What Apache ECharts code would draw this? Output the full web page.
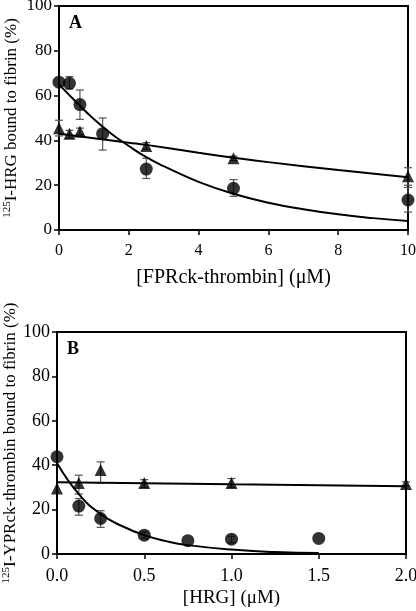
<!DOCTYPE html>
<html><head><meta charset="utf-8">
<script src="https://cdn.jsdelivr.net/npm/echarts@6/dist/echarts.min.js"></script>
<style>html,body{margin:0;padding:0;background:#fff}#c{width:416px;height:611px}</style>
</head><body><div id="c"></div>
<script>
// Panel A data
var aX = [0, 0.3, 0.6, 1.25, 2.5, 5, 10];
var aCircle = [66, 65.5, 56, 43, 27.2, 18.6, 13.4];
var aCircleLo = [66, 63, 49.4, 35.7, 23, 15, 8];
var aCircleHi = [66, 68.5, 62.5, 50, 32, 22.5, 19];
var aTriX = [0, 0.3, 0.6, 2.5, 5, 10];
var aTri = [45.4, 43, 44, 37.5, 32, 24];
var aTriLo = [42, 41, 42.5, 36, 31, 20];
var aTriHi = [49, 44.5, 45.5, 39, 33, 27.8];
var aCircleFitX = [0, 0.5, 1, 1.5, 2, 2.5, 3, 4, 5, 6, 7, 8, 9, 10];
var aCircleFitY = [65, 57, 49.5, 43, 37.5, 32.5, 28.5, 21.5, 16.2, 12.2, 9.3, 7, 5.3, 4];
var aTriFitX = [0, 1, 2, 2.5, 4, 5, 6, 8, 10];
var aTriFitY = [43, 41, 39, 38, 34.5, 32.3, 30.3, 26.8, 23.6];
// Panel B data
var bX = [0, 0.125, 0.25, 0.5, 0.75, 1.0, 1.5];
var bCircle = [43.8, 21.6, 16, 8.5, 6, 6.7, 7];
var bCircleLo = [43.8, 17.5, 12, 7, 6, 5, 7];
var bCircleHi = [43.8, 25, 19.5, 10, 6, 8, 7];
var bTriX = [0, 0.125, 0.25, 0.5, 1.0, 2.0];
var bTri = [29.5, 32, 37.8, 32, 32, 31.5];
var bTriLo = [29.5, 27, 32, 30, 30, 30.5];
var bTriHi = [29.5, 35.5, 41.5, 33.5, 34, 32.5];
var bCircleFitX = [0, 0.125, 0.25, 0.375, 0.5, 0.625, 0.75, 1.0, 1.25, 1.5];
var bCircleFitY = [41, 27, 18, 12.5, 8.5, 5.8, 4, 2, 0.9, 0.4];
var bTriFitX = [0, 0.5, 1.0, 1.5, 2.0];
var bTriFitY = [32.3, 31.9, 31.4, 31, 30.5];
var yTicksInterval = 20;

function pairs(xs, ys){ return xs.map(function(x,i){return [x, ys[i]];}); }
function triples(xs, lo, hi){ return xs.map(function(x,i){return [x, lo[i], hi[i]];}); }

var FONT = 'Liberation Serif';
function errSeries(idx, data){
  return {
    type: 'custom', xAxisIndex: idx, yAxisIndex: idx, z: 1,
    data: data,
    renderItem: function(params, api){
      var x = api.value(0), lo = api.value(1), hi = api.value(2);
      if (lo === hi) return null;
      var p1 = api.coord([x, lo]), p2 = api.coord([x, hi]);
      var w = 4, st = {stroke: '#555', lineWidth: 1.2};
      return {type: 'group', children: [
        {type: 'line', shape: {x1: p1[0], y1: p1[1], x2: p2[0], y2: p2[1]}, style: st},
        {type: 'line', shape: {x1: p1[0]-w, y1: p1[1], x2: p1[0]+w, y2: p1[1]}, style: st},
        {type: 'line', shape: {x1: p2[0]-w, y1: p2[1], x2: p2[0]+w, y2: p2[1]}, style: st}
      ]};
    }
  };
}
function fit(idx, data){
  return {type: 'line', xAxisIndex: idx, yAxisIndex: idx, data: data, smooth: true,
    showSymbol: false, lineStyle: {color: '#000', width: 2}, z: 2, silent: true};
}
function pts(idx, data, sym, size){
  return {type: 'scatter', xAxisIndex: idx, yAxisIndex: idx, data: data, symbol: sym,
    symbolSize: size, itemStyle: {color: '#000'}, z: 3};
}
function xAx(idx, max, interval, name, dec, fs, nfs, gap){
  return {type: 'value', gridIndex: idx, min: 0, max: max, interval: interval,
    name: name, nameLocation: 'middle', nameGap: gap,
    nameTextStyle: {fontFamily: FONT, fontSize: nfs, color: '#000'},
    axisLine: {lineStyle: {color: '#000', width: 2}},
    axisTick: {inside: false, length: 5, lineStyle: {color: '#000', width: 1.5}},
    axisLabel: {fontFamily: FONT, fontSize: fs, color: '#000', margin: 13,
      formatter: function(v){ return dec ? v.toFixed(1) : String(v); }},
    splitLine: {show: false}};
}
function yAx(idx, nameRich, gap, fs){
  return {type: 'value', gridIndex: idx, min: 0, max: 100, interval: yTicksInterval,
    name: nameRich, nameLocation: 'middle', nameGap: gap, nameRotate: 90,
    nameMoveOverlap: false,
    nameTextStyle: {fontFamily: FONT, fontSize: 17, color: '#000',
      rich: {s: {fontFamily: FONT, fontSize: 11, color: '#000', verticalAlign: 'top', padding: [0,0,8,0]},
             n: {fontFamily: FONT, fontSize: 17, color: '#000'}}},
    axisLine: {lineStyle: {color: '#000', width: 2}},
    axisTick: {inside: false, length: 5, lineStyle: {color: '#000', width: 1.5}},
    axisLabel: {fontFamily: FONT, fontSize: fs, color: '#000', margin: 7},
    splitLine: {show: false}};
}

var chart = echarts.init(document.getElementById('c'), null, {renderer: 'canvas'});
chart.setOption({
  backgroundColor: '#fff',
  animation: false,
  title: [
    {text: 'A', left: 64, top: 9, textStyle: {fontFamily: FONT, fontWeight: 'bold', fontSize: 18, color: '#000'}},
    {text: 'B', left: 62, top: 335, textStyle: {fontFamily: FONT, fontWeight: 'bold', fontSize: 18, color: '#000'}}
  ],
  grid: [
    {left: 59, top: 6, width: 349, height: 224, show: true, borderColor: '#000', borderWidth: 2, backgroundColor: 'transparent', outerBoundsMode: 'none', containLabel: false},
    {left: 57, top: 332, width: 349, height: 222, show: true, borderColor: '#000', borderWidth: 2, backgroundColor: 'transparent', outerBoundsMode: 'none', containLabel: false}
  ],
  xAxis: [
    xAx(0, 10, 2, '[FPRck-thrombin] (\u03bcM)', false, 16, 20, 38),
    xAx(1, 2, 0.5, '[HRG] (\u03bcM)', true, 18, 19, 35)
  ],
  yAxis: [
    yAx(0, '{s|125}{n|I-HRG bound to fibrin (%)}', 38, 17),
    yAx(1, '{s|125}{n|I-YPRck-thrombin bound to fibrin (%)}', 37, 18)
  ],
  series: [
    errSeries(0, triples(aX, aCircleLo, aCircleHi)),
    errSeries(0, triples(aTriX, aTriLo, aTriHi)),
    fit(0, pairs(aCircleFitX, aCircleFitY)),
    fit(0, pairs(aTriFitX, aTriFitY)),
    pts(0, pairs(aX, aCircle), 'circle', 13),
    pts(0, pairs(aTriX, aTri), 'triangle', 12),
    errSeries(1, triples(bX, bCircleLo, bCircleHi)),
    errSeries(1, triples(bTriX, bTriLo, bTriHi)),
    fit(1, pairs(bCircleFitX, bCircleFitY)),
    fit(1, pairs(bTriFitX, bTriFitY)),
    pts(1, pairs(bX, bCircle), 'circle', 13),
    pts(1, pairs(bTriX, bTri), 'triangle', 12)
  ]
});
</script></body></html>
